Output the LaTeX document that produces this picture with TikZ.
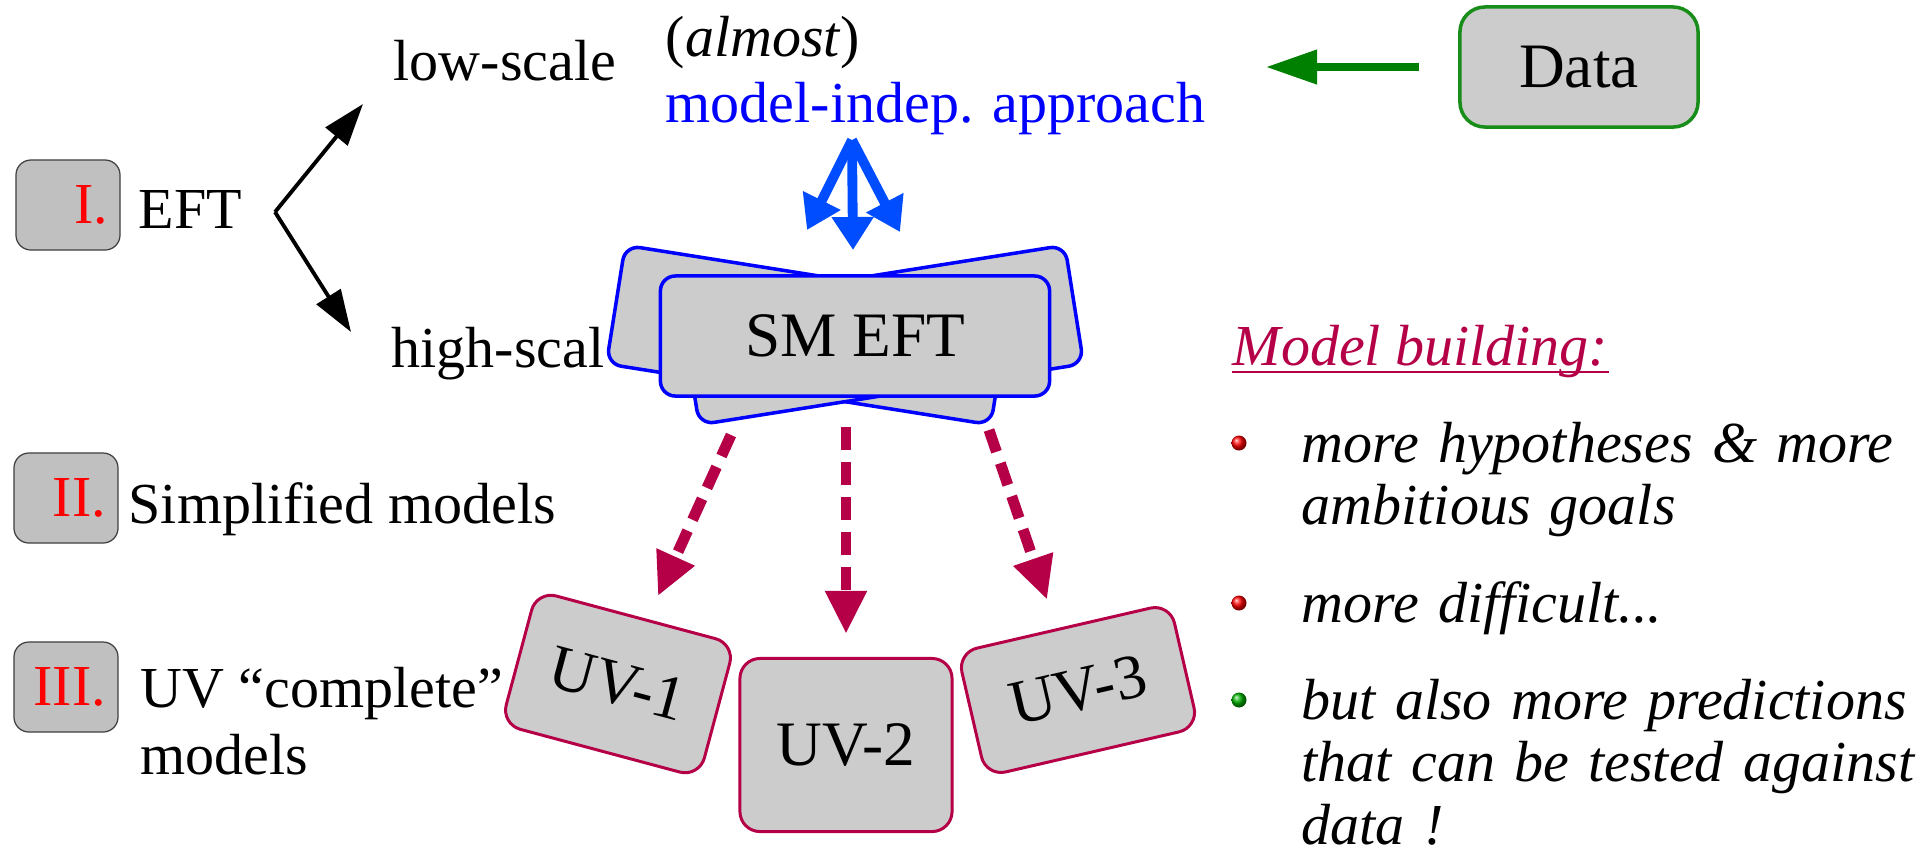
\documentclass[tikz,border=0pt]{standalone}
\usepackage{fontspec}
\setmainfont{Liberation Serif}
\usetikzlibrary{arrows.meta}

\definecolor{boxgray}{RGB}{204,204,204}
\definecolor{numgray}{RGB}{192,192,192}
\definecolor{crimson}{RGB}{181,0,72}
\definecolor{forkblue}{RGB}{0,76,255}
\definecolor{datagreen}{RGB}{0,128,0}

\begin{document}
\begin{tikzpicture}[x=0.01cm,y=-0.01cm,font=\fontsize{16.5}{18}\selectfont,
  txt/.style={anchor=base west,inner sep=0pt},
  num box/.style={draw=black!75,line width=0.35pt,fill=numgray,rounded corners=0.15cm,minimum width=1.04cm,minimum height=0.9cm,text width=0.8cm,inner sep=0.12cm,align=right,text=red},
  sm node/.style={draw=blue,line width=1pt,fill=boxgray,rounded corners=0.15cm,minimum width=3.89cm,minimum height=1.2cm,font=\fontsize{18}{20}\selectfont},
  uv node/.style={draw=crimson,line width=0.85pt,fill=boxgray,rounded corners=0.2cm,font=\fontsize{18}{20}\selectfont},
  bullet ball/.style={circle,inner sep=0pt,minimum size=0.15cm,shading=ball},
  item text/.style={txt,text width=6.2cm,align=left,font=\fontsize{16.5}{17.9}\selectfont\itshape},
  eft arrow/.style={line width=1.1pt,-{Triangle[length=0.42cm,width=0.28cm]}},
  fork arrow/.style={forkblue,line width=2.8pt,-{Triangle[length=0.33cm,width=0.4cm]}},
  dash arrow/.style={crimson,line width=3.1pt,dash pattern=on 0.23cm off 0.12cm,-{Triangle[length=0.43cm,width=0.39cm]}},
  data arrow/.style={datagreen,line width=2.1pt,-{Triangle[length=0.51cm,width=0.33cm]}}]

\path[use as bounding box,fill=white] (0,0) rectangle (1917,850);

% left column
\node[num box] (numI) at (68,205) {I.};
\node[num box] (numII) at (66,498) {II.};
\node[num box] (numIII) at (66,687) {III.};
\node[txt] (eft) at (138,228) {EFT};
\node[txt] (simp) at (128,523) {Simplified models};
\node[txt] (uvc) at (140,707) {UV “complete”};
\node[txt] (uvm) at (140,774) {models};

\node[txt] (low) at (393,80) {low-scale};
\node[txt] (high) at (391,367) {high-scal};
\coordinate (branch) at (275,212);
\coordinate (lowtip) at (363,104);
\coordinate (hightip) at (351,332);
\path (branch) edge[eft arrow] (lowtip)
      (branch) edge[eft arrow] (hightip);

% approach and data
\node[txt] (almost) at (665,56) {(\textit{almost})};
\node[txt,text=blue] (approach) at (665,122) {model-indep. approach};
\node[draw=datagreen!90!white,line width=1pt,fill=boxgray,rounded corners=0.25cm,minimum width=2.38cm,minimum height=1.2cm,font=\fontsize{18}{20}\selectfont] (data) at (1579,67) {Data};
\coordinate (datatip) at (1266,67);
\draw[data arrow] ([xshift=-0.39cm]data.west) -- (datatip);

% SM EFT
\node[sm node,rotate=-9] (smA) at (808,335) {};
\node[sm node,rotate=9] (smB) at (882,335) {};
\node[sm node] (smeft) at (855,336) {SM EFT};

\coordinate (fork) at (852,140);
\coordinate (f1) at (807,230);
\coordinate (f2) at (853,250);
\coordinate (f3) at (900,232);
\path (fork) edge[fork arrow] (f1)
      (fork) edge[fork arrow] (f2)
      (fork) edge[fork arrow] (f3);

% UV models
\node[uv node,rotate=-15,minimum width=2.05cm,minimum height=1.38cm] (uv1) at (618,684) {UV-1};
\node[uv node,minimum width=2.12cm,minimum height=1.73cm] (uv2) at (846,745) {UV-2};
\node[uv node,rotate=13,minimum width=2.18cm,minimum height=1.27cm] (uv3) at (1078,690) {UV-3};

\coordinate (s1) at (731,435);
\coordinate (s2) at (846,427);
\coordinate (s3) at (989,430);
\path (s1) edge[dash arrow,shorten >=0.25cm] (uv1)
      (s2) edge[dash arrow,shorten >=0.23cm] (uv2)
      (s3) edge[dash arrow,shorten >=0.3cm] (uv3);

% model building
\node[txt,text=crimson,font=\fontsize{16.5}{18}\selectfont\itshape] (mb) at (1232,365) {Model building:};
\draw[crimson,line width=0.6pt] ([yshift=-0.07cm]mb.base west) -- ([yshift=-0.07cm]mb.base east);

\node[bullet ball,ball color=red] (b1) at (1239,443) {};
\node[bullet ball,ball color=red] (b2) at (1239,603) {};
\node[bullet ball,ball color=green!70!black] (b3) at (1239,700) {};
\node[item text] (t1) at (1301,462) {more hypotheses \& more\\ambitious goals};
\node[item text] (t2) at (1301,622) {more difficult...};
\node[item text] (t3) at (1301,719) {but also more predictions\\that can be tested against\\data !};
\end{tikzpicture}
\end{document}
